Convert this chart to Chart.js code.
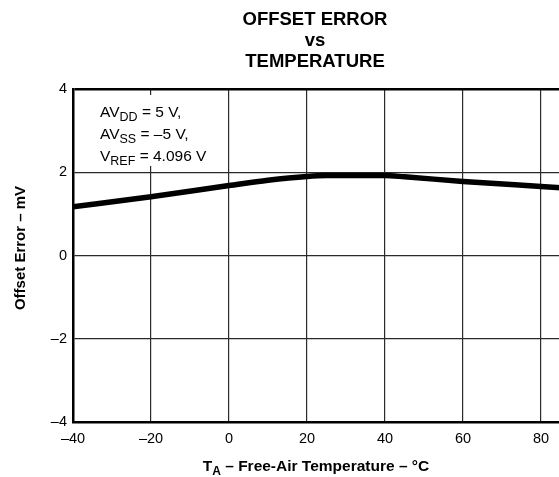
<!DOCTYPE html>
<html>
<head>
<meta charset="utf-8">
<script src="https://cdn.jsdelivr.net/npm/chart.js@4"></script>
<style>
  html, body { margin: 0; padding: 0; background: #fff; overflow: hidden; }
  #wrap { width: 640px; height: 477px; }
</style>
</head>
<body>
<div id="wrap"><canvas id="offsetChart" width="640" height="477"></canvas></div>
<script>
// temperature (°C) and offset error (mV)
const temps = [-40, -20, 0, 10, 20, 25, 40, 45, 60, 80, 100];
const offsetErr = [1.17, 1.41, 1.68, 1.81, 1.90, 1.92, 1.92, 1.89, 1.78, 1.66, 1.54];

const titleLines = ['OFFSET ERROR', 'vs', 'TEMPERATURE'];
const yTitle = 'Offset Error – mV';
const noteLines = [
    [['AV', false], ['DD', true], [' = 5 V,', false]],
    [['AV', false], ['SS', true], [' = –5 V,', false]],
    [['V', false], ['REF', true], [' = 4.096 V', false]]
];

const FONT = '"Liberation Sans", Arial, Helvetica, sans-serif';

function drawParts(ctx, parts, x, y, size, subSize, weight) {
    for (const [txt, sub] of parts) {
        ctx.font = weight + ' ' + (sub ? subSize : size) + 'px ' + FONT;
        ctx.fillText(txt, x, sub ? y + 4 : y);
        x += ctx.measureText(txt).width;
    }
    return x;
}

function partsWidth(ctx, parts, size, subSize, weight) {
    let w = 0;
    for (const [txt, sub] of parts) {
        ctx.font = weight + ' ' + (sub ? subSize : size) + 'px ' + FONT;
        w += ctx.measureText(txt).width;
    }
    return w;
}

const textPlugin = {
    id: 'texts',
    beforeDatasetsDraw(chart) {
        // white box behind the conditions note
        const ctx = chart.ctx;
        ctx.save();
        ctx.fillStyle = '#fff';
        ctx.fillRect(88, 95, 134, 71);
        ctx.restore();
    },
    afterDraw(chart) {
        const ctx = chart.ctx;
        ctx.save();
        ctx.fillStyle = '#000';
        ctx.textBaseline = 'alphabetic';

        // title
        ctx.textAlign = 'center';
        ctx.font = 'bold 18.5px ' + FONT;
        ctx.fillText(titleLines[0], 315, 25);
        ctx.fillText(titleLines[1], 315, 46);
        ctx.fillText(titleLines[2], 315, 67);

        // conditions note
        ctx.textAlign = 'left';
        let base = 117;
        for (const line of noteLines) {
            drawParts(ctx, line, 100, base, 15.5, 12.5, 'normal');
            base += 22;
        }

        // x axis title
        const xParts = [['T', false], ['A', true], [' – Free-Air Temperature – °C', false]];
        const w = partsWidth(ctx, xParts, 15.5, 12, 'bold');
        drawParts(ctx, xParts, 316 - w / 2, 471, 15.5, 12, 'bold');

        // y axis title
        ctx.translate(25, 248);
        ctx.rotate(-Math.PI / 2);
        ctx.textAlign = 'center';
        ctx.font = 'bold 15px ' + FONT;
        ctx.fillText(yTitle, 0, 0);
        ctx.restore();
    }
};

const dash = (v) => String(v).replace('-', '–');

new Chart(document.getElementById('offsetChart').getContext('2d'), {
    type: 'line',
    data: {
        datasets: [{
            data: temps.map((t, i) => ({ x: t, y: offsetErr[i] })),
            borderColor: '#000',
            borderWidth: 5.5,
            pointRadius: 0,
            cubicInterpolationMode: 'monotone',
            fill: false
        }]
    },
    options: {
        responsive: false,
        animation: false,
        events: [],
        layout: { padding: { top: 89, right: 21, left: 0, bottom: 0 } },
        plugins: {
            legend: { display: false },
            title: { display: false },
            tooltip: { enabled: false }
        },
        scales: {
            x: {
                type: 'linear',
                min: -40,
                max: 100,
                afterFit: (s) => { s.height = 55; },
                ticks: {
                    stepSize: 20,
                    padding: 8,
                    color: '#000',
                    font: { family: FONT, size: 14.5 },
                    maxRotation: 0,
                    callback: dash
                },
                grid: { color: '#2a2a2a', lineWidth: 1.2, drawTicks: false },
                border: { color: '#000', width: 2.5 }
            },
            y: {
                min: -4,
                max: 4,
                afterFit: (s) => { s.width = 73; },
                ticks: {
                    stepSize: 2,
                    padding: 6,
                    color: '#000',
                    font: { family: FONT, size: 14.5 },
                    callback: dash
                },
                grid: {
                    color: (c) => c.tick && c.tick.value === 4 ? '#000' : '#2a2a2a',
                    lineWidth: (c) => c.tick && c.tick.value === 4 ? 2.5 : 1.2,
                    drawTicks: false
                },
                border: { color: '#000', width: 2.5 }
            }
        }
    },
    plugins: [textPlugin]
});
</script>
</body>
</html>
